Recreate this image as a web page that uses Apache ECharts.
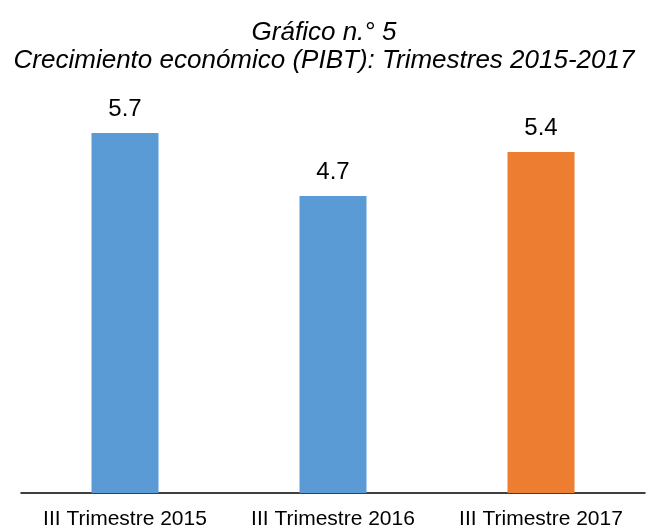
<!DOCTYPE html>
<html>
<head>
<meta charset="utf-8">
<title>Gráfico n.° 5</title>
<script src="https://cdn.jsdelivr.net/npm/echarts@6/dist/echarts.min.js"></script>
<style>
    html, body { margin: 0; padding: 0; background: #fff; }
    #chart { width: 648px; height: 527px; }
</style>
</head>
<body>
<div id="chart"></div>
<script>
"use strict";

// Datos del gráfico
const categorias = ["III Trimestre 2015", "III Trimestre 2016", "III Trimestre 2017"];
const crecimiento = [5.7, 4.7, 5.4];
const colores = ["#5B9BD5", "#5B9BD5", "#ED7D31"];

const FONT = '"Liberation Sans", Arial, sans-serif';

const chart = echarts.init(document.getElementById("chart"));
chart.setOption({
    textStyle: { fontFamily: FONT },
    title: {
        text: "Gráfico n.° 5\nCrecimiento económico (PIBT): Trimestres 2015-2017",
        left: "center", top: 14,
        textStyle: {
            fontFamily: FONT, fontSize: 26, fontStyle: "italic",
            fontWeight: "normal", color: "#000", lineHeight: 28
        }
    },
    // Área de trazado fija: las etiquetas no deben moverla
    grid: { left: 21, right: 3, top: 114, bottom: 34, outerBoundsMode: "none", containLabel: false },
    xAxis: {
        type: "category", data: categorias,
        axisLine: { lineStyle: { color: "#000", width: 1.5 } },
        axisTick: { show: false },
        axisLabel: { interval: 0, color: "#000", fontSize: 21, margin: 16, fontFamily: FONT }
    },
    yAxis: { type: "value", min: 0, max: 6, show: false },
    series: [{
        type: "bar", barWidth: 67,
        data: crecimiento.map((v, i) => ({ value: v, itemStyle: { color: colores[i] } })),
        label: {
            show: true, position: "top", distance: 12,
            color: "#000", fontSize: 24, fontFamily: FONT,
            formatter: p => p.value.toFixed(1)
        }
    }]
});
</script>
</body>
</html>
